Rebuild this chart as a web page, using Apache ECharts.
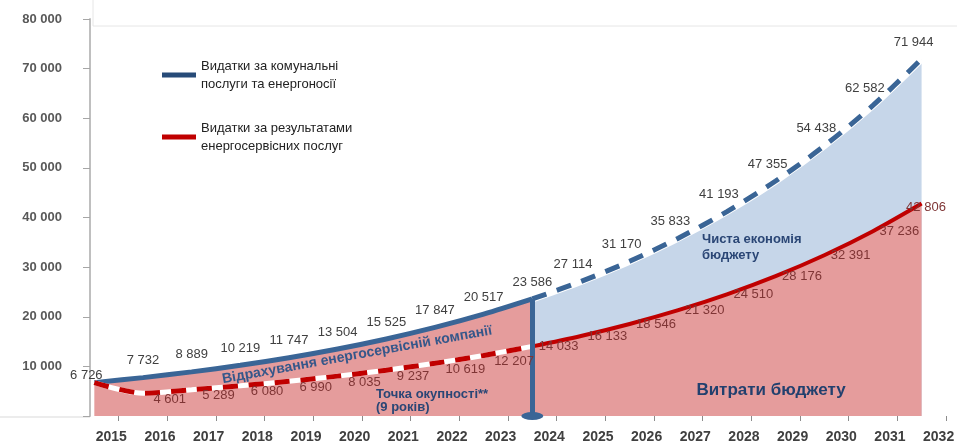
<!DOCTYPE html>
<html>
<head>
<meta charset="utf-8">
<script src="https://cdn.jsdelivr.net/npm/echarts@6/dist/echarts.min.js"></script>
<style>
  html, body { margin: 0; padding: 0; background: #fff; }
  #chart { width: 957px; height: 445px; }
</style>
</head>
<body>
<div id="chart"></div>
<script>
// years on the x axis
const YEARS = ['2015', '2016', '2017', '2018', '2019', '2020', '2021', '2022', '2023',
  '2024', '2025', '2026', '2027', '2028', '2029', '2030', '2031', '2032']
// utilities & energy spending (blue)
const UTILITIES = [6726, 7732, 8889, 10219, 11747, 13504, 15525, 17847, 20517,
  23586, 27114, 31170, 35833, 41193, 47355, 54438, 62582, 71944]
// spending on energy-service results (red)
const ESCO = [6726, 4601, 5289, 6080, 6990, 8035, 9237, 10619, 12207,
  14033, 16133, 18546, 21320, 24510, 28176, 32391, 37236, 42806]
const PAYBACK = '2024'
const Y_TICKS = [0, 10000, 20000, 30000, 40000, 50000, 60000, 70000, 80000]

const NAME_BLUE = 'Видатки за комунальні\nпослуги та енергоносії'
const NAME_RED = 'Видатки за результатами\nенергосервісних послуг'

const BLUE = '#3a6596'
const RED = '#c00000'
const PINK = '#e59c9c'
const LIGHT = '#c6d6e9'

const pb = YEARS.indexOf(PAYBACK)
const head = (arr) => arr.map((v, i) => (i <= pb ? v : null))
const tail = (arr) => arr.map((v, i) => (i >= pb ? v : null))
const fmt = (v) => String(v).replace(/\B(?=(\d{3})+(?!\d))/g, ' ')

const chart = echarts.init(document.getElementById('chart'))

const blueLabels = UTILITIES.map((v, i) => {
  if (i === 0) return { value: v, label: { position: 'top', offset: [-8, 8] } }
  return { value: v, label: { offset: [i > 9 ? -8 : 0, -2] } }
})
const redLabels = ESCO.map((v, i) => {
  if (i === 0) return { value: v, label: { show: false } }
  if (i === ESCO.length - 1) return { value: v, label: { position: 'right', offset: [-22, 4] } }
  return { value: v, label: { offset: [i < 9 ? 4 : 0, i < 9 ? 6 : 0] } }
})

const option = {
  animation: false,
  grid: { left: 70, right: 5, top: 19, bottom: 29 },
  legend: {
    orient: 'vertical',
    left: 157,
    top: 52,
    itemGap: 26,
    itemWidth: 34,
    itemHeight: 5,
    icon: 'rect',
    selectedMode: false,
    textStyle: { fontSize: 13, color: '#222', fontFamily: 'Liberation Sans', lineHeight: 18 },
    data: [
      { name: NAME_BLUE, itemStyle: { color: '#274b78' } },
      { name: NAME_RED, itemStyle: { color: RED } },
    ],
  },
  xAxis: {
    type: 'category',
    data: YEARS,
    boundaryGap: true,
    axisLine: { show: false },
    axisTick: { show: true, length: 5, interval: (i) => i > 0, lineStyle: { color: '#8c8c8c' } },
    axisLabel: {
      color: '#404040', fontSize: 14, fontWeight: 'bold', fontFamily: 'Liberation Sans',
      margin: 14, padding: [0, 0, 0, 34],
    },
  },
  yAxis: {
    type: 'value',
    min: Y_TICKS[0],
    max: Y_TICKS[Y_TICKS.length - 1],
    interval: 10000,
    offset: -20,
    splitLine: { show: false },
    axisLine: { show: true, lineStyle: { color: '#bfbfbf', width: 2 } },
    axisTick: { show: true, length: 7, lineStyle: { color: '#a6a6a6' } },
    axisLabel: {
      color: '#595959', fontSize: 13, fontWeight: 'bold', fontFamily: 'Liberation Sans', margin: 28,
      formatter: (v) => (v === 0 ? '' : fmt(v)),
    },
  },
  series: [
    { // solid blue up to payback, pink underneath
      name: NAME_BLUE, type: 'line', data: head(UTILITIES), smooth: 0.3, symbol: 'none',
      lineStyle: { color: BLUE, width: 5 }, itemStyle: { color: BLUE },
      areaStyle: { color: PINK, opacity: 1 }, z: 2,
    },
    { // white underlay + light blue savings area
      type: 'line', data: tail(UTILITIES), smooth: 0.3, symbol: 'none',
      lineStyle: { color: '#fff', width: 7 }, areaStyle: { color: LIGHT, opacity: 1 }, z: 2,
    },
    {
      type: 'line', data: tail(UTILITIES), smooth: 0.3, symbol: 'none',
      lineStyle: { color: BLUE, width: 5, type: [15, 11] }, z: 3,
    },
    {
      type: 'line', data: head(ESCO), smooth: 0.3, symbol: 'none',
      lineStyle: { color: '#fff', width: 5 }, z: 3,
    },
    {
      name: NAME_RED, type: 'line', data: head(ESCO), smooth: 0.3, symbol: 'none',
      lineStyle: { color: RED, width: 5, type: [15, 11] }, itemStyle: { color: RED }, z: 3,
    },
    { // solid red after payback, pink underneath
      type: 'line', data: tail(ESCO), smooth: 0.3, symbol: 'none',
      lineStyle: { color: RED, width: 4 }, areaStyle: { color: PINK, opacity: 1 }, z: 3,
    },
    { // blue value labels + payback line
      type: 'line', data: blueLabels, symbol: 'circle', symbolSize: 1,
      itemStyle: { color: 'transparent' }, lineStyle: { opacity: 0 }, z: 5,
      label: {
        show: true, position: 'top', distance: 8, formatter: (p) => fmt(p.value),
        color: '#404040', fontSize: 13, fontFamily: 'Liberation Sans',
      },
      markLine: {
        silent: true, symbol: ['none', 'none'], label: { show: false },
        lineStyle: { color: BLUE, width: 5, type: 'solid' },
        data: [[{ coord: [PAYBACK, 0] }, { coord: [PAYBACK, UTILITIES[pb]] }]],
      },
      markPoint: {
        silent: true, symbol: 'circle', symbolSize: [22, 8], label: { show: false },
        itemStyle: { color: BLUE },
        data: [{ coord: [PAYBACK, 0] }],
      },
    },
    { // red value labels
      type: 'line', data: redLabels, symbol: 'circle', symbolSize: 1,
      itemStyle: { color: 'transparent' }, lineStyle: { opacity: 0 }, z: 5,
      label: {
        show: true, position: 'right', distance: 6, formatter: (p) => fmt(p.value),
        color: '#7f3535', fontSize: 13, fontFamily: 'Liberation Sans',
      },
    },
  ],
  graphic: [
    { type: 'line', shape: { x1: 93, y1: 26, x2: 957, y2: 26 }, style: { stroke: '#e6e6e6', lineWidth: 1 } },
    { type: 'line', shape: { x1: 93, y1: 0, x2: 93, y2: 26 }, style: { stroke: '#e6e6e6', lineWidth: 1 } },
    { type: 'line', shape: { x1: 0, y1: 417, x2: 90, y2: 417 }, style: { stroke: '#d9d9d9', lineWidth: 1 } },
    {
      type: 'text', x: 357, y: 355, rotation: 0.18, z: 10,
      style: {
        text: 'Відрахування енергосервісній компанії', align: 'center', verticalAlign: 'middle',
        fill: '#35578a', font: 'bold 14px "Liberation Sans"',
      },
    },
    {
      type: 'text', x: 376, y: 388, z: 10,
      style: {
        text: 'Точка окупності**\n(9 років)', fill: '#2a4675', font: 'bold 13px "Liberation Sans"',
        lineHeight: 13,
      },
    },
    {
      type: 'text', x: 702, y: 231, z: 10,
      style: {
        text: 'Чиста економія\nбюджету', fill: '#2a4675', font: 'bold 13px "Liberation Sans"',
        lineHeight: 16,
      },
    },
    {
      type: 'text', x: 771, y: 390, z: 10,
      style: {
        text: 'Витрати бюджету', align: 'center', verticalAlign: 'middle',
        fill: '#22406e', font: 'bold 17px "Liberation Sans"',
      },
    },
  ],
}

chart.setOption(option)
</script>
</body>
</html>
